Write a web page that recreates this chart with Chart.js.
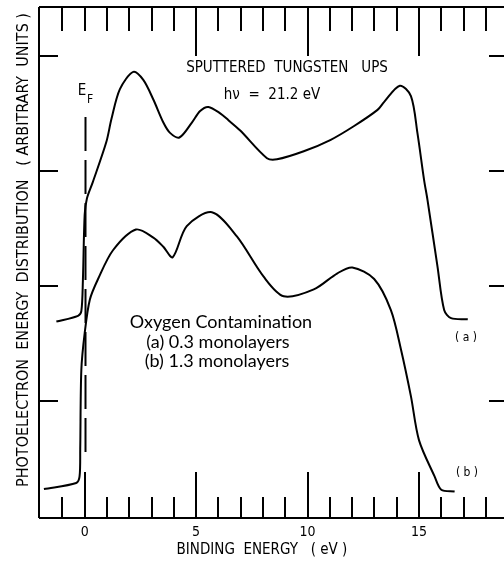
<!DOCTYPE html>
<html>
<head>
<meta charset="utf-8">
<script src="https://cdn.jsdelivr.net/npm/chart.js@4.4.0/dist/chart.umd.min.js"></script>
<style>
html, body { margin:0; padding:0; background:#fff; overflow:hidden; }
#wrap { width:510px; height:562px; }
</style>
</head>
<body>
<div id="wrap"><canvas id="upsChart" width="510" height="562"></canvas></div>
<script>
// spectrum (a): 0.3 monolayers oxygen -- binding energy (eV) / intensity (arb. units)
const energyA = [-1.27, -0.3, -0.15, -0.08, 0.0, 0.1, 0.36, 0.97, 1.2, 1.58, 2.18, 2.63, 3.08, 3.53, 3.83,
    4.25, 4.81, 5.18, 5.55, 6.08, 6.45, 6.98, 8.18, 8.63, 9.83, 11.04, 12.09, 13.14, 13.44, 14.14,
    14.64, 14.93, 15.23, 15.38, 15.83, 16.13, 16.44, 17.19];
const intensityA = [1.69, 1.74, 1.78, 2.05, 2.62, 2.76, 2.9, 3.25, 3.45, 3.71, 3.86, 3.79, 3.62, 3.42, 3.33,
    3.29, 3.42, 3.52, 3.555, 3.5, 3.44, 3.35, 3.11, 3.1, 3.17, 3.27, 3.39, 3.53, 3.6, 3.74,
    3.65, 3.33, 2.92, 2.75, 2.17, 1.79, 1.72, 1.71];

// spectrum (b): 1.3 monolayers oxygen
const energyB = [-1.83, -0.38, -0.23, -0.2, -0.15, 0.0, 0.23, 0.6, 1.27, 2.3, 3.08, 3.53, 3.95, 4.58, 5.71,
    6.83, 8.03, 8.93, 10.28, 11.34, 12.01, 12.99, 13.74, 14.19, 14.64, 15.0, 15.7, 16.0, 16.6];
const intensityB = [0.235, 0.287, 0.344, 0.58, 1.27, 1.59, 1.88, 2.06, 2.31, 2.49, 2.42, 2.34, 2.25, 2.52, 2.64,
    2.43, 2.08, 1.91, 1.97, 2.11, 2.16, 2.06, 1.79, 1.45, 1.04, 0.66, 0.344, 0.229, 0.214];

const xLabelTicks = [0, 5, 10, 15];
const xMinorTicks = [-1, 0, 1, 2, 3, 4, 5, 6, 7, 8, 9, 10, 11, 12, 13, 14, 15, 16, 17, 18];
const yTicks = [1, 2, 3, 4];

const letterFont = '"DejaVu Sans Condensed", "DejaVu Sans", sans-serif';
const roundFont = 'Lato, "Noto Sans", sans-serif';

const toPoints = (xs, ys) => xs.map((x, i) => ({ x: x, y: ys[i] }));

// frame, inward ticks, Fermi level marker and the hand-lettered notes
const frameNotes = {
    id: 'frameNotes',
    beforeDatasetsDraw(chart) {
        const { ctx, chartArea: a, scales: { x, y } } = chart;
        ctx.save();
        ctx.strokeStyle = '#000';
        ctx.lineWidth = 2;
        ctx.beginPath();
        ctx.moveTo(a.left, a.top); ctx.lineTo(a.right, a.top);
        ctx.moveTo(a.left, a.top); ctx.lineTo(a.left, a.bottom);
        ctx.moveTo(a.left, a.bottom); ctx.lineTo(a.right, a.bottom);
        xMinorTicks.forEach(v => {
            const px = Math.round(x.getPixelForValue(v));
            const bottomLen = v % 5 === 0 ? 46 : 21;
            const topLen = (v % 5 === 0 && v !== 0) ? 49 : 24;
            ctx.moveTo(px, a.bottom); ctx.lineTo(px, a.bottom - bottomLen);
            ctx.moveTo(px, a.top); ctx.lineTo(px, a.top + topLen);
        });
        yTicks.forEach(v => {
            const py = Math.round(y.getPixelForValue(v));
            ctx.moveTo(a.left, py); ctx.lineTo(a.left + 19, py);
            ctx.moveTo(a.right, py); ctx.lineTo(a.right - 18, py);
        });
        ctx.stroke();
        // E_F dashed line
        const ef = Math.round(x.getPixelForValue(0)) + 0.5;
        ctx.setLineDash([34, 9]);
        ctx.beginPath();
        ctx.moveTo(ef, 117); ctx.lineTo(ef, 460);
        ctx.stroke();
        ctx.restore();
    },
    afterDraw(chart) {
        const { ctx } = chart;
        ctx.save();
        ctx.fillStyle = '#000';
        ctx.textAlign = 'center';
        ctx.textBaseline = 'middle';

        ctx.font = '15px ' + letterFont;
        ctx.fillText('SPUTTERED  TUNGSTEN   UPS', 287, 68);
        ctx.fillText('h\u03BD  =  21.2 eV', 272, 95);
        ctx.fillText('E', 82, 91);
        ctx.font = '12px ' + letterFont;
        ctx.fillText('F', 90, 100);

        ctx.font = '12px ' + letterFont;
        ctx.fillText('( a )', 466, 338);
        ctx.fillText('( b )', 467, 473);

        ctx.font = '18px ' + roundFont;
        ctx.fillText('Oxygen Contamination', 221, 322);
        ctx.fillText('(a) 0.3 monolayers', 218, 342);
        ctx.fillText('(b) 1.3 monolayers', 217, 361);

        // axis titles
        ctx.font = '15px ' + letterFont;
        ctx.fillText('BINDING  ENERGY   ( eV )', 262, 550);
        ctx.translate(24, 250);
        ctx.rotate(-Math.PI / 2);
        ctx.font = '16px ' + letterFont;
        ctx.fillText('PHOTOELECTRON  ENERGY  DISTRIBUTION   ( ARBITRARY  UNITS )', 0, 0);
        ctx.restore();
    }
};

const lineStyle = {
    borderColor: '#000',
    borderWidth: 2,
    pointRadius: 0,
    fill: false,
    showLine: true,
    tension: 0.3
};

new Chart(document.getElementById('upsChart'), {
    type: 'scatter',
    data: {
        datasets: [
            Object.assign({ label: '(a)', data: toPoints(energyA, intensityA) }, lineStyle),
            Object.assign({ label: '(b)', data: toPoints(energyB, intensityB) }, lineStyle)
        ]
    },
    options: {
        responsive: false,
        animation: false,
        layout: { padding: { top: 7, right: 3, left: 0, bottom: 0 } },
        plugins: { legend: { display: false }, tooltip: { enabled: false } },
        scales: {
            x: {
                type: 'linear',
                min: -2.05,
                max: 18.95,
                grid: { display: false },
                border: { display: false },
                afterBuildTicks: s => { s.ticks = xLabelTicks.map(v => ({ value: v })); },
                afterFit: s => { s.height = 44; },
                ticks: {
                    color: '#000',
                    padding: -2,
                    maxRotation: 0,
                    font: { family: letterFont, size: 14 }
                }
            },
            y: {
                type: 'linear',
                min: -0.017,
                max: 4.424,
                grid: { display: false },
                border: { display: false },
                ticks: { display: false },
                afterFit: s => { s.width = 39; }
            }
        }
    },
    plugins: [frameNotes]
});
</script>
</body>
</html>
